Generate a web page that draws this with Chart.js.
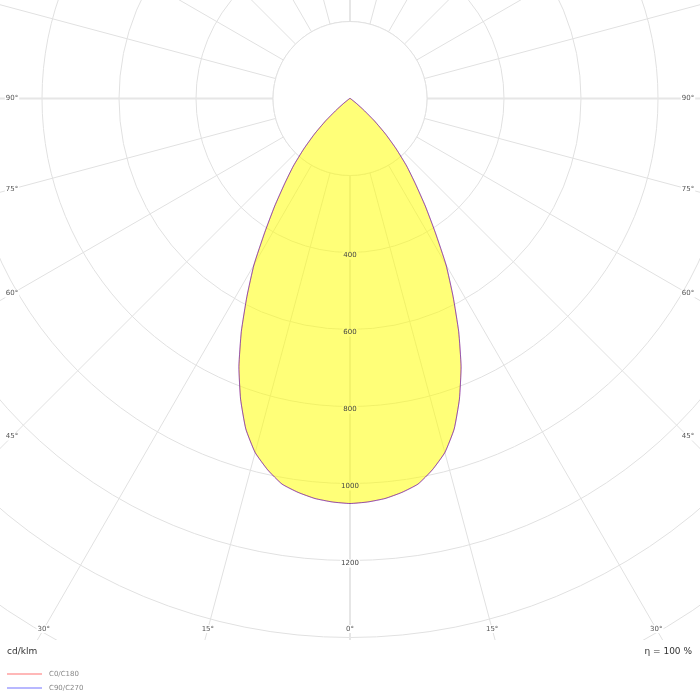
<!DOCTYPE html>
<html>
<head>
<meta charset="utf-8">
<script src="https://cdn.jsdelivr.net/npm/chart.js@4"></script>
<style>
  html, body { margin: 0; padding: 0; background: #fff; }
  #wrap { position: relative; width: 700px; height: 700px; }
</style>
</head>
<body>
<div id="wrap"><canvas id="c" width="700" height="700"></canvas></div>
<script>
// ---- DATA ----
// gamma angles (degrees) of each C-plane half, 0 = straight down
const gammaDeg = [0,2.5,5,7.5,10,12.5,15,17.5,20,22.5,25,27.5,30,32.5,35,37.5,40,42.5,45,47.5,50,52.5,55,57.5,60,62.5,65,67.5,70,72.5,75,77.5,80,82.5,85,87.5,90,92.5,95,97.5,100,102.5,105,107.5,110,112.5,115,117.5,120,122.5,125,127.5,130,132.5,135,137.5,140,142.5,145,147.5,150,152.5,155,157.5,160,162.5,165,167.5,170,172.5,175,177.5,180];
// luminous intensity, cd/klm
const c0 = [1052,1049,1043,1032,1017,988,952,900,831,754,668,580,499,412,341,279,229,178,131,86,46,22,10,6,4,3,2,2,1,1,1,0.5,0.5,0.5,0,0,0,0,0,0,0,0,0,0,0,0,0,0,0,0,0,0,0,0,0,0,0,0,0,0,0,0,0,0,0,0,0,0,0,0,0,0,0];
const c180 = [1052,1049,1043,1032,1017,988,952,900,831,754,668,580,499,412,341,279,229,178,131,86,46,22,10,6,4,3,2,2,1,1,1,0.5,0.5,0.5,0,0,0,0,0,0,0,0,0,0,0,0,0,0,0,0,0,0,0,0,0,0,0,0,0,0,0,0,0,0,0,0,0,0,0,0,0,0,0];
const c90 = [1052,1049,1043,1032,1017,988,952,900,831,754,668,580,499,412,341,279,229,178,131,86,46,22,10,6,4,3,2,2,1,1,1,0.5,0.5,0.5,0,0,0,0,0,0,0,0,0,0,0,0,0,0,0,0,0,0,0,0,0,0,0,0,0,0,0,0,0,0,0,0,0,0,0,0,0,0,0];
const c270 = [1052,1049,1043,1032,1017,988,952,900,831,754,668,580,499,412,341,279,229,178,131,86,46,22,10,6,4,3,2,2,1,1,1,0.5,0.5,0.5,0,0,0,0,0,0,0,0,0,0,0,0,0,0,0,0,0,0,0,0,0,0,0,0,0,0,0,0,0,0,0,0,0,0,0,0,0,0,0];
const tickValues = [400, 600, 800, 1000, 1200];
const angleTickLabels = [0, 15, 30, 45, 60, 75, 90];
const seriesNames = ['C0/C180', 'C90/C270'];
const unitLabel = 'cd/klm';
const efficiencyLabel = 'η = 100 %';

// ---- build full circle (clockwise from bottom: left half then right half) ----
function fullCircle(leftHalf, rightHalf) {
  const out = leftHalf.slice();
  for (let i = rightHalf.length - 2; i >= 1; i--) out.push(rightHalf[i]);
  return out;
}
const labels = [];
gammaDeg.forEach(g => labels.push(g));
for (let i = gammaDeg.length - 2; i >= 1; i--) labels.push(gammaDeg[i]);

const dataA = fullCircle(c180, c0);
const dataB = fullCircle(c270, c90);

// ---- layout ----
const CX = 350, CY = 98.5, PX_PER_CD = 0.385, RMAX = 1800;
const GRID = '#e1e1e1';
const FONT = '"DejaVu Sans", sans-serif';
const PLOT_BOTTOM = 640;

const overlay = {
  id: 'overlay',
  beforeDraw(chart) {
    const ctx = chart.ctx;
    ctx.save();
    ctx.beginPath(); ctx.rect(0, 0, chart.width, PLOT_BOTTOM); ctx.clip();
  },
  beforeDatasetsDraw(chart) {
    const s = chart.scales.r, ctx = chart.ctx;
    const r200 = s.getDistanceFromCenterForValue(200);
    ctx.save();
    ctx.fillStyle = '#fff';
    ctx.beginPath(); ctx.arc(s.xCenter, s.yCenter, r200, 0, Math.PI * 2); ctx.fill();
    ctx.strokeStyle = GRID; ctx.lineWidth = 1;
    ctx.beginPath(); ctx.arc(s.xCenter, s.yCenter, r200, 0, Math.PI * 2); ctx.stroke();
    ctx.font = '7px ' + FONT;
    tickValues.forEach(v => {
      const y = s.yCenter + s.getDistanceFromCenterForValue(v) + 3;
      const w = ctx.measureText(String(v)).width;
      ctx.fillRect(s.xCenter - w / 2 - 1, y - 4, w + 2, 8);
    });
    ctx.restore();
  },
  afterDatasetsDraw(chart) {
    const s = chart.scales.r, ctx = chart.ctx;
    ctx.restore(); // end plot clip
    ctx.save();
    ctx.font = '7px ' + FONT;
    ctx.fillStyle = '#444';
    ctx.textAlign = 'center'; ctx.textBaseline = 'middle';
    tickValues.forEach(v => {
      const y = s.yCenter + s.getDistanceFromCenterForValue(v) + 3;
      ctx.fillText(String(v), s.xCenter, y);
    });
    // angle labels on the frame
    const xR = 688, xL = 12, yB = 629;
    angleTickLabels.forEach(a => {
      const rad = a * Math.PI / 180;
      const sx = Math.sin(rad), cy = Math.cos(rad);
      const tx = sx > 1e-6 ? (xR - s.xCenter) / sx : Infinity;
      const ty = cy > 1e-6 ? (yB - s.yCenter) / cy : Infinity;
      const t = Math.min(tx, ty);
      const dy = cy * t, dx = sx * t;
      const pts = a === 0 ? [[s.xCenter, s.yCenter + dy]] : [[s.xCenter - dx, s.yCenter + dy], [s.xCenter + dx, s.yCenter + dy]];
      pts.forEach(p => {
        const txt = a + '°';
        const w = ctx.measureText(txt).width;
        ctx.fillStyle = '#fff';
        ctx.fillRect(p[0] - w / 2 - 1, p[1] - 4, w + 2, 8);
        ctx.fillStyle = '#555';
        ctx.fillText(txt, p[0], p[1]);
      });
    });
    // footer
    ctx.textBaseline = 'middle';
    ctx.font = '9px ' + FONT;
    ctx.fillStyle = '#333';
    ctx.textAlign = 'left';
    ctx.fillText(unitLabel, 7, 652);
    ctx.textAlign = 'right';
    ctx.fillText(efficiencyLabel, 692, 652);
    // legend
    const legendColors = ['rgba(255,0,0,0.28)', 'rgba(0,0,255,0.28)'];
    ctx.textAlign = 'left';
    ctx.font = '7px ' + FONT;
    seriesNames.forEach((n, i) => {
      const y = 674 + i * 14;
      ctx.strokeStyle = legendColors[i]; ctx.lineWidth = 2;
      ctx.beginPath(); ctx.moveTo(7, y); ctx.lineTo(42, y); ctx.stroke();
      ctx.fillStyle = '#888';
      ctx.fillText(n, 49, y + 0.5);
    });
    ctx.restore();
  }
};

new Chart(document.getElementById('c'), {
  type: 'radar',
  data: {
    labels: labels,
    datasets: [
      { label: seriesNames[0], data: dataA, order: 2, fill: 'origin',
        backgroundColor: 'rgba(255,255,0,0.53)', borderColor: 'rgba(255,0,0,0.42)',
        borderWidth: 1, pointRadius: 0, tension: 0.15, clip: false },
      { label: seriesNames[1], data: dataB, order: 1, fill: false,
        backgroundColor: 'transparent', borderColor: 'rgba(0,0,255,0.42)',
        borderWidth: 1, pointRadius: 0, tension: 0.15, clip: false }
    ]
  },
  options: {
    responsive: false,
    animation: false,
    devicePixelRatio: 1,
    layout: { padding: 0 },
    plugins: { legend: { display: false }, tooltip: { enabled: false } },
    elements: { line: { borderJoinStyle: 'round' } },
    scales: {
      r: {
        min: 0, max: RMAX,
        startAngle: 180,
        ticks: { display: false, stepSize: 200 },
        pointLabels: { display: false },
        grid: { circular: true, color: GRID, lineWidth: 1 },
        angleLines: {
          color: ctx => (ctx.index % 36 === 0 ? '#e6e6e6' : GRID),
          lineWidth: ctx => (ctx.index % 6 !== 0 ? 0 : (ctx.index % 36 === 0 ? 2 : 1))
        },
        afterFit: s => { s.xCenter = CX; s.yCenter = CY; s.drawingArea = RMAX * PX_PER_CD; }
      }
    }
  },
  plugins: [overlay]
});
</script>
</body>
</html>
